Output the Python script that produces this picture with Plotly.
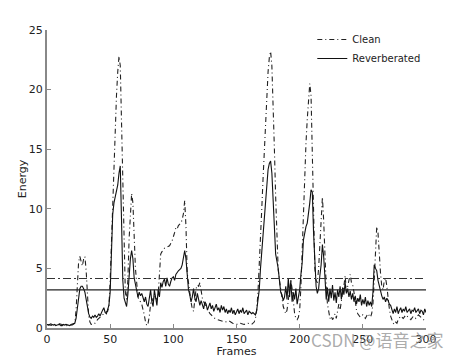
import plotly.graph_objects as go

# ---------------- data ----------------
reverb_frames = list(range(0, 301))
reverb_energy = [
    0.3, 0.25, 0.3, 0.35, 0.3, 0.25, 0.3, 0.2, 0.25, 0.3,
    0.3, 0.2, 0.2, 0.3, 0.25, 0.3, 0.25, 0.2, 0.2, 0.3,
    0.35, 0.4, 0.4, 0.8, 1.8, 2.8, 3.3, 3.5, 3.5, 3.3,
    3.0, 2.4, 1.7, 1.2, 0.9, 0.8, 1.0, 0.9, 1.1, 0.9,
    1.0, 1.2, 1.0, 1.3, 1.5, 1.7, 1.3, 1.2, 1.5, 1.9,
    3.0, 6.5, 9.5, 10.5, 11.0, 11.4, 12.0, 13.0, 13.6, 9.0,
    4.0, 2.5, 2.0, 1.8, 2.8, 4.5, 5.8, 6.5, 5.8, 4.2,
    3.6, 3.2, 2.6, 3.0, 2.7, 2.9, 2.5, 2.2, 2.6, 2.0,
    1.8, 2.6, 3.2, 2.2, 1.8, 3.2, 2.4, 1.9, 3.2, 2.6,
    3.8, 3.4, 3.9, 4.1, 3.5, 4.2, 3.7, 3.5, 3.9, 4.2,
    4.3, 4.0, 4.5, 4.7, 4.8, 4.9, 5.0, 5.3, 6.0, 6.5,
    5.8, 4.2, 3.2, 2.8, 2.2, 2.6, 3.3, 2.5, 2.2, 2.9,
    2.5, 1.9, 2.3, 2.0, 1.6, 2.2, 2.0, 1.5, 1.9, 2.1,
    1.6, 1.9, 1.4, 1.8, 2.0, 1.5, 1.7, 1.3, 1.9, 1.5,
    1.8, 1.3, 1.6, 1.2, 1.5, 1.3, 1.7, 1.2, 1.5, 1.1,
    1.4, 1.6, 1.2, 1.5, 1.3, 1.7, 1.2, 1.4, 1.5, 1.1,
    1.4, 1.3, 1.2, 1.3, 1.2, 1.1, 1.5, 2.3, 3.2, 5.0,
    6.5, 8.0, 9.5, 11.0, 12.5, 13.3, 13.8, 14.0, 13.0, 11.0,
    8.5, 6.2, 5.6, 5.0, 4.0, 3.0, 2.8, 2.3, 2.6, 3.5,
    2.4, 4.2, 2.6, 4.0, 2.2, 3.0, 2.4, 3.3, 2.0, 2.8,
    3.2, 4.5, 5.5, 7.4, 8.0, 8.5, 8.8, 9.5, 10.5, 11.6,
    11.4, 8.0, 4.8, 3.5, 2.9, 3.3, 4.4, 5.3, 7.0, 6.0,
    4.3, 2.4, 3.4, 2.2, 3.3, 2.5, 3.6, 2.3, 3.0, 2.1,
    3.2, 2.6, 3.5, 2.4, 3.4, 2.8, 3.8, 2.9, 3.3, 2.6,
    3.1, 2.4, 2.9, 2.2, 2.7, 2.0, 2.5, 2.2, 2.8, 1.9,
    2.4, 2.0, 2.6, 1.8, 2.3, 1.9, 2.2, 1.8, 3.0, 5.3,
    5.0, 4.8, 4.0, 3.5, 3.1, 2.7, 2.4, 2.6, 2.2, 2.5,
    2.3, 2.0, 1.9, 1.5, 1.2, 1.6, 1.3, 1.8, 1.2, 1.5,
    1.7, 1.3, 1.6, 1.4, 1.8, 1.3, 1.5, 1.6, 1.2, 1.5,
    1.4, 1.7, 1.3, 1.5, 1.6, 1.2, 1.5, 1.4, 1.1, 1.6,
    1.3,
]

clean_frames = [
    0, 5, 10, 15, 20, 22, 23, 24, 25, 26, 27, 28, 29, 30, 31, 32, 33, 34, 35, 37,
    38, 40, 42, 44, 46, 48, 49, 50, 51, 52, 53, 54, 55, 56, 57, 58, 59, 60, 61, 62,
    63, 64, 65, 66, 67, 68, 69, 70, 71, 72, 73, 74, 75, 76, 77, 78, 79, 80, 81, 82,
    83, 84, 85, 86, 87, 88, 89, 90, 91, 92, 93, 95, 97, 99, 100, 101, 102, 103, 104, 105,
    106, 107, 108, 109, 110, 111, 112, 113, 114, 115, 116, 117, 118, 119, 120, 121, 122, 123, 124, 125,
    127, 129, 131, 133, 135, 138, 141, 144, 147, 150, 153, 156, 159, 162, 164, 165, 166, 167, 168, 169,
    170, 171, 172, 173, 174, 175, 176, 177, 178, 179, 180, 181, 182, 183, 184, 185, 186, 187, 188, 189,
    190, 191, 192, 193, 194, 195, 196, 197, 198, 199, 200, 201, 202, 203, 204, 205, 206, 207, 208, 209,
    210, 211, 212, 213, 214, 215, 216, 217, 218, 219, 220, 221, 222, 223, 224, 225, 226, 227, 228, 229,
    230, 231, 232, 233, 234, 235, 236, 237, 238, 239, 240, 241, 242, 243, 244, 245, 246, 247, 248, 250,
    252, 254, 256, 257, 258, 259, 260, 261, 262, 263, 264, 265, 266, 267, 268, 269, 270, 271, 272, 273,
    274, 275, 276, 277, 278, 280, 282, 284, 286, 288, 290, 292, 294, 296, 298, 300,
]
clean_energy = [
    0.3, 0.2, 0.35, 0.2, 0.25, 0.4, 1.5, 3.5, 5.5, 6.0, 5.6, 5.2, 5.8, 6.0, 4.8, 2.5, 1.0, 0.5, 0.3, 0.3,
    0.4, 0.7, 0.9, 1.1, 1.3, 1.4, 1.8, 4.0, 7.5, 10.5, 13.5, 16.5, 19.5, 21.5, 22.8, 22.0, 17.0, 11.0, 6.0, 3.0,
    2.4, 4.0, 7.5, 10.0, 11.3, 10.5, 7.0, 5.0, 3.8, 2.6, 2.3, 2.2, 2.0, 1.6, 1.1, 0.5, 0.2, 0.4, 1.0, 2.0,
    2.5, 2.2, 2.7, 2.5, 2.4, 2.8, 4.5, 6.2, 6.4, 6.5, 6.7, 6.8, 6.9, 7.3, 7.6, 8.0, 8.4, 8.3, 8.6, 8.7,
    8.8, 9.1, 9.6, 10.7, 8.5, 4.6, 3.5, 3.0, 2.2, 1.6, 1.4, 2.5, 3.3, 3.6, 3.5, 3.8, 2.9, 2.5, 2.2, 2.0,
    1.6, 1.2, 1.0, 0.8, 0.7, 0.6, 0.5, 0.6, 0.4, 0.3, 0.4, 0.3, 0.4, 0.3, 0.5, 0.8, 1.5, 3.0, 5.0, 7.5,
    10.0, 12.5, 15.0, 17.5, 19.5, 21.5, 22.7, 23.2, 22.0, 19.0, 15.0, 11.0, 7.5, 4.9, 4.0, 3.2, 2.4, 1.8, 1.5, 1.2,
    1.5, 2.5, 3.5, 4.0, 3.3, 2.0, 1.2, 0.8, 0.7, 0.9, 1.5, 3.5, 7.0, 10.0, 13.0, 15.5, 17.5, 19.0, 20.5, 19.5,
    14.0, 8.0, 5.0, 4.0, 3.8, 5.0, 7.0, 9.5, 11.0, 9.0, 6.0, 3.5, 2.0, 1.2, 0.8, 1.0, 0.7, 0.9, 1.2, 0.8,
    1.5, 2.0, 1.5, 2.5, 3.0, 3.5, 4.4, 3.0, 3.5, 4.3, 4.5, 3.8, 3.6, 3.0, 2.2, 1.5, 1.2, 1.0, 0.9, 1.1,
    0.8, 1.2, 0.9, 1.2, 2.0, 4.0, 6.5, 8.5, 8.0, 6.0, 4.6, 3.5, 3.2, 4.0, 4.2, 3.5, 2.4, 1.6, 1.0, 0.6,
    0.4, 0.3, 0.5, 0.4, 0.7, 1.0, 0.8, 1.1, 0.9, 0.7, 1.0, 0.8, 1.1, 0.9, 0.7, 0.6,
]

clean_threshold = 4.15
reverb_threshold = 3.2
x_range = [0, 300]
x_ticks = [0, 50, 100, 150, 200, 250, 300]
y_ticks = [0, 5, 10, 15, 20, 25]

# ---------------- figure ----------------
FONT = "DejaVu Sans"
TXT = "#222222"
fig = go.Figure()

fig.add_trace(go.Scatter(
    x=clean_frames, y=clean_energy, mode="lines", name="Clean",
    line=dict(color="#222222", width=1.1, dash="5px,3px,1px,3px"),
))
fig.add_trace(go.Scatter(
    x=reverb_frames, y=reverb_energy, mode="lines", name="Reverberated",
    line=dict(color="#111111", width=1.1),
))
fig.add_trace(go.Scatter(
    x=x_range, y=[clean_threshold, clean_threshold], mode="lines", showlegend=False,
    line=dict(color="#333333", width=1.1, dash="8px,3px,2px,3px"),
))
fig.add_trace(go.Scatter(
    x=x_range, y=[reverb_threshold, reverb_threshold], mode="lines", showlegend=False,
    line=dict(color="#222222", width=1.1),
))

axis_common = dict(
    showline=True, linecolor="#888888", linewidth=2,
    ticks="inside", ticklen=4, tickcolor="#888888", tickwidth=1,
    showgrid=False, zeroline=False, mirror=False, automargin=False,
    tickfont=dict(family=FONT, size=11, color=TXT),
)

# The page body adds an 8px offset, so the figure is sized to fit the window.
fig.update_layout(
    width=452, height=350,
    margin=dict(l=39, r=34, t=22, b=30),
    paper_bgcolor="white", plot_bgcolor="white",
    font=dict(family=FONT, size=11, color=TXT),
    showlegend=True,
    legend=dict(
        x=0.70, y=1.017, xanchor="left", yanchor="top",
        bgcolor="rgba(0,0,0,0)", borderwidth=0,
        font=dict(family=FONT, size=10, color=TXT),
        tracegroupgap=0,
    ),
    xaxis=dict(range=x_range, tickvals=x_ticks, **axis_common,
               title=dict(text="Frames", standoff=0,
                          font=dict(family=FONT, size=11, color=TXT))),
    yaxis=dict(range=[0, 25], tickvals=y_ticks, **axis_common,
               title=dict(text="Energy", standoff=0,
                          font=dict(family=FONT, size=11, color=TXT))),
)

fig.add_annotation(
    text="CSDN @语音之家", xref="paper", yref="paper",
    x=1.05, y=-0.04, xanchor="right", yanchor="middle", showarrow=False,
    font=dict(family="Noto Sans CJK SC", size=17, color="rgba(150,150,150,0.8)"),
)

fig.write_html("out.html")
